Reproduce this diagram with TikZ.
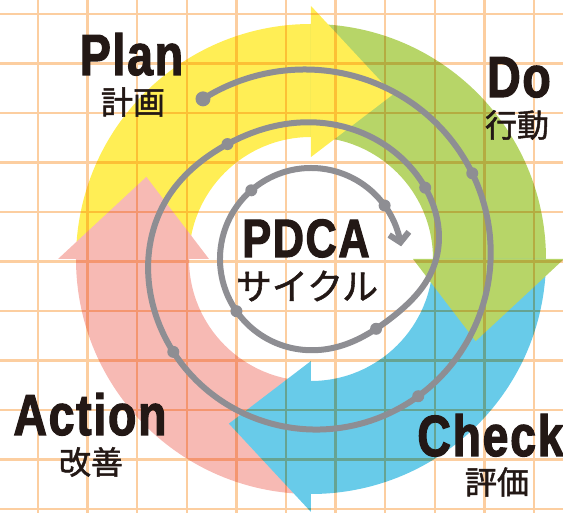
\documentclass[tikz,border=0pt]{standalone}
\usepackage{fontspec}
\usetikzlibrary{arrows.meta}
\newfontfamily\latinbold{Liberation Sans Bold}[FakeStretch=0.8, FakeBold=2, LetterSpace=3]
\newfontfamily\jpfont{Noto Sans CJK JP}[FakeBold=1.5]
\definecolor{planyellow}{RGB}{255,238,85}
\definecolor{dogreen}{RGB}{183,213,104}
\definecolor{checkblue}{RGB}{104,203,233}
\definecolor{actpink}{RGB}{247,186,180}
\definecolor{gridorange}{RGB}{252,206,160}
\definecolor{spiralgray}{RGB}{142,142,147}
\definecolor{inkblack}{RGB}{35,24,21}

\begin{document}
\begin{tikzpicture}[x=1pt, y=1pt,
	declare function={sig(\x)=1/(1+exp(-max(-9,min(9,\x))));
		spiralr(\t)=91+45*sig((\t+376)/14)+27*sig((\t+215)/14)+4.4*ln(1+exp((\t+150)/40));},
	every node/.style={inner sep=0pt, text=inkblack},
	bigword/.style={font=\latinbold\fontsize{58}{60}\selectfont, anchor=base},
	jpword/.style={font=\jpfont\fontsize{32}{34}\selectfont},
	spiral/.style={draw=spiralgray, line width=6pt, line cap=round},
	spot/.style={fill=spiralgray}]
			\useasboundingbox (-311,-254) rectangle (252,259);
			\clip (-311,-254) rectangle (252,259);
			
			% bodies of the ring
			\fill[planyellow] (180:235) arc[start angle=180, end angle=90, radius=235] -- (90:122) arc[start angle=90, end angle=180, radius=122] -- cycle;
			\fill[dogreen] (90:235) arc[start angle=90, end angle=0, radius=235] -- (0:122) arc[start angle=0, end angle=90, radius=122] -- cycle;
			\fill[checkblue] (0:235) arc[start angle=0, end angle=-90, radius=235] -- (-90:122) arc[start angle=-90, end angle=0, radius=122] -- cycle;
			\fill[actpink] (270:235) arc[start angle=270, end angle=180, radius=235] -- (180:122) arc[start angle=180, end angle=270, radius=122] -- cycle;
			
			% heads of the ring
			\fill[planyellow] (90:102) -- (90:253) -- (63.5:184) -- cycle;
			\fill[dogreen] (0:102) -- (0:253) -- (-26.5:184) -- cycle;
			\fill[checkblue] (-90:102) -- (-90:253) -- (-116.5:184) -- cycle;
			\fill[actpink] (180:102) -- (180:253) -- (153.5:184) -- cycle;
			
			% grid paper
			\begin{scope}[blend mode=multiply]
			\draw[gridorange, line width=2.5pt, shift={(-273,245)}, xstep=49.6, ystep=49.5] (-49.6,-540) grid (560,49.5);
			\end{scope}
			
			% spiral
			\draw[spiral, -{Straight Barb[length=9pt, width=20pt]}] plot[domain=124:-712, samples=210, smooth, variable=\t] ({\t}:{spiralr(\t)});
			\fill[spot] ({124}:{spiralr(124)}) circle (7.5);
			\fill[spot] ({28}:{spiralr(28)}) circle (6);
			\fill[spot] ({-52}:{spiralr(-52)}) circle (6);
			\fill[spot] ({-146}:{spiralr(-146)}) circle (6);
			\fill[spot] ({-234}:{spiralr(-234)}) circle (6);
			\fill[spot] ({-328}:{spiralr(-328)}) circle (6);
			\fill[spot] ({-407}:{spiralr(-407)}) circle (6);
			\fill[spot] ({-505}:{spiralr(-505)}) circle (6);
			\fill[spot] ({-589}:{spiralr(-589)}) circle (6);
			\fill[spot] ({-684}:{spiralr(-684)}) circle (6);
			
			% labels
			\node[bigword] (plan) at (-179.5,184){Plan};
			\node[jpword] (planjp) at (-178,157){計画};
			\node[bigword] (do) at (208,162){Do};
			\node[jpword] (dojp) at (206,134){行動};
			\node[bigword] (check) at (179.5,-197){Check};
			\node[jpword] (checkjp) at (186,-223){評価};
			\node[bigword] (action) at (-221,-176){Action};
			\node[jpword] (actionjp) at (-220,-203){改善};
			\node[bigword, font=\latinbold\fontsize{54}{56}\selectfont] (pdca) at (-5,2){PDCA};
			\node[jpword, font=\jpfont\fontsize{36}{38}\selectfont] (cycle) at (-4,-27){サイクル};
\end{tikzpicture}
\end{document}
